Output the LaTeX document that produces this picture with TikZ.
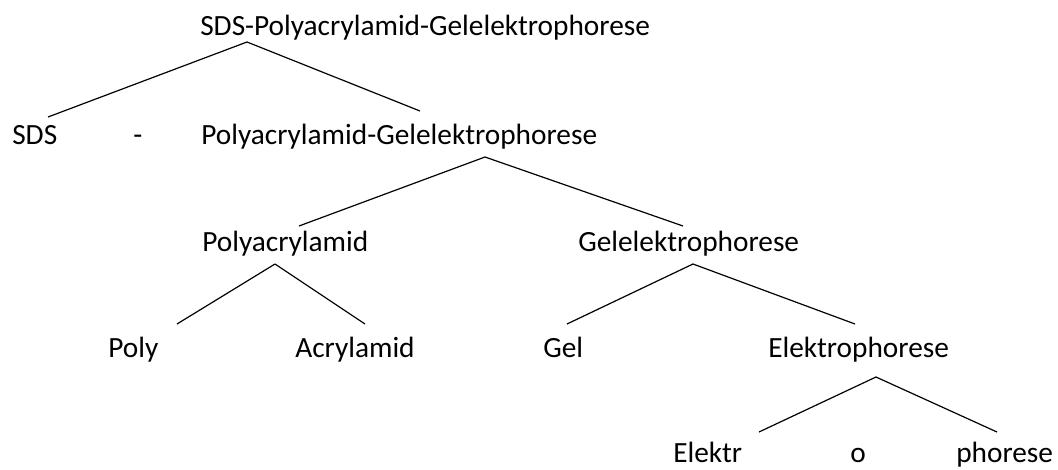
\documentclass[tikz,border=0pt]{standalone}
\usepackage{fontspec}
\setmainfont{Carlito}
\tikzset{>=latex}
\tikzstyle{word}=[anchor=base west, inner sep=0pt, font=\fontsize{22}{26}\selectfont]
\tikzstyle{branch}=[line width=0.9pt]

\begin{document}
\begin{tikzpicture}[x=0.75pt, y=-0.75pt]
    \useasboundingbox (0,0) rectangle (1058,469);
    % Whole compound at the top
    \node[word] (sdspage) at (200,35) {SDS-Polyacrylamid-Gelelektrophorese};

    % First split
    \node[word] (sds) at (12,144) {SDS};
    \node[word] (hyphen) at (133,144) {-};
    \node[word] (pagel) at (201,144) {Polyacrylamid-Gelelektrophorese};

    % Second split
    \node[word] (polyacryl) at (202,251) {Polyacrylamid};
    \node[word] (gelelektro) at (578,251) {Gelelektrophorese};

    % Third split
    \node[word] (poly) at (108,357) {Poly};
    \node[word] (acryl) at (295,357) {Acrylamid};
    \node[word] (gel) at (543,357) {Gel};
    \node[word] (elektro) at (768,357) {Elektrophorese};

    % Last split
    \node[word] (elektr) at (673,462) {Elektr};
    \node[word] (fuge) at (850,462) {o};
    \node[word] (phorese) at (956,462) {phorese};

    % Branch points under each word and line ends above the parts
    \coordinate (top) at (247,42);
    \coordinate (topL) at (48,117);
    \coordinate (topR) at (420,111);
    \coordinate (pgTop) at (485,157);
    \coordinate (pgL) at (299,226);
    \coordinate (pgR) at (683,226);
    \coordinate (paTop) at (275,264);
    \coordinate (paL) at (177,324);
    \coordinate (paR) at (365,324);
    \coordinate (geTop) at (693,264);
    \coordinate (geL) at (567,324);
    \coordinate (geR) at (855,324);
    \coordinate (elTop) at (876,377);
    \coordinate (elL) at (759,432);
    \coordinate (elR) at (997,432);

    % Branches
    \draw[branch] (top) -- (topL); \draw[branch] (top) -- (topR); % SDS | Polyacrylamid-...
    \draw[branch] (pgTop) -- (pgL); \draw[branch] (pgTop) -- (pgR);
    \draw[branch] (paTop) -- (paL); \draw[branch] (paTop) -- (paR);
    \draw[branch] (geTop) -- (geL); \draw[branch] (geTop) -- (geR);
    \draw[branch] (elTop) -- (elL); \draw[branch] (elTop) -- (elR); % Elektr | o | phorese
\end{tikzpicture}
\end{document}
